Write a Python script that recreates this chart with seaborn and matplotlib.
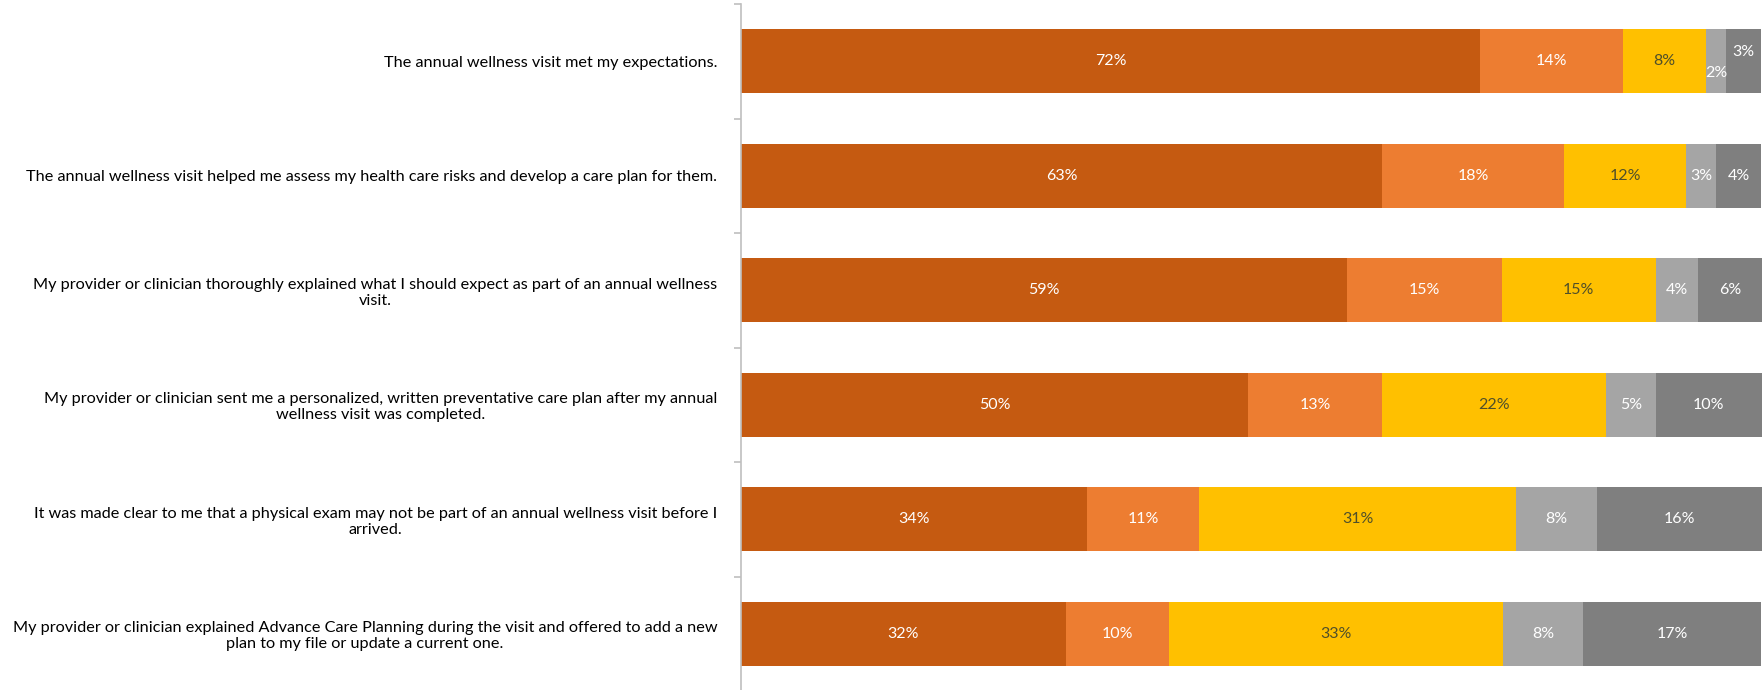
import numpy as np
import pandas as pd
import matplotlib
matplotlib.use("Agg")
import matplotlib.pyplot as plt
import seaborn as sns

# Survey statements (top to bottom)
statements = [
    "The annual wellness visit met my expectations.",
    "The annual wellness visit helped me assess my health care risks and develop a care plan for them.",
    "My provider or clinician thoroughly explained what I should expect as part of an annual wellness\nvisit.",
    "My provider or clinician sent me a personalized, written preventative care plan after my annual\nwellness visit was completed.",
    "It was made clear to me that a physical exam may not be part of an annual wellness visit before I\narrived.",
    "My provider or clinician explained Advance Care Planning during the visit and offered to add a new\nplan to my file or update a current one.",
]

# Response shares (%) for each response level
level1 = [72.4, 62.8, 59.4, 49.7, 33.9, 31.8]
level2 = [14.0, 17.8, 15.1, 13.1, 11.0, 10.1]
level3 = [8.1, 12.0, 15.1, 21.9, 31.0, 32.7]
level4 = [2.0, 2.9, 4.1, 4.9, 7.9, 7.9]
level5 = [3.4, 4.4, 6.4, 10.4, 16.3, 17.4]

colors = ["#C55A11", "#ED7D31", "#FFC000", "#A5A5A5", "#7F7F7F"]
text_colors = ["white", "white", "#4f4f2a", "white", "white"]

sns.set_style("white")
plt.rcParams['font.family'] = ['Lato', 'DejaVu Sans']

df = pd.DataFrame({"statement": statements, "l1": level1, "l2": level2,
                   "l3": level3, "l4": level4, "l5": level5})
levels = ["l1", "l2", "l3", "l4", "l5"]
cum = df[levels].cumsum(axis=1)

fig = plt.figure(figsize=(17.62, 6.9), dpi=100)
ax = fig.add_axes([741 / 1762, -1 / 690, 1 - 741 / 1762, 687 / 690])

# stacked bars: draw the cumulative totals from the longest down
for i in reversed(range(len(levels))):
    sns.barplot(x=cum[levels[i]], y=df["statement"], orient="h", color=colors[i],
                saturation=1, width=0.56, linewidth=0, ax=ax)

# segment labels
for r in range(len(df)):
    start = 0
    for i, lv in enumerate(levels):
        v = df.loc[r, lv]
        yoff = 0
        if v < 2.5:
            yoff = 0.1
        elif i > 0 and df.loc[r, levels[i - 1]] < 2.5:
            yoff = -0.08
        ax.text(start + v / 2, r + yoff, f"{round(v)}%", ha="center", va="center",
                color=text_colors[i], fontsize=11.5)
        start += v

ax.set_xlim(0, 100)
ax.set_ylim(5.5, -0.5)
ax.set_xlabel("")
ax.set_ylabel("")
ax.set_xticks([])
for s in ["top", "right", "bottom"]:
    ax.spines[s].set_visible(False)
ax.spines["left"].set_color("#BFBFBF")
ax.spines["left"].set_linewidth(1.2)

ax.set_yticks(np.arange(-0.5, 6, 1), minor=True)
ax.tick_params(axis="y", which="major", length=0, pad=17, labelsize=11.7, labelcolor="black")
ax.tick_params(axis="y", which="minor", length=5, color="#BFBFBF", width=1.2, left=True)
for lab in ax.get_yticklabels():
    lab.set_multialignment("center")

fig.savefig("out.png", dpi=100)
